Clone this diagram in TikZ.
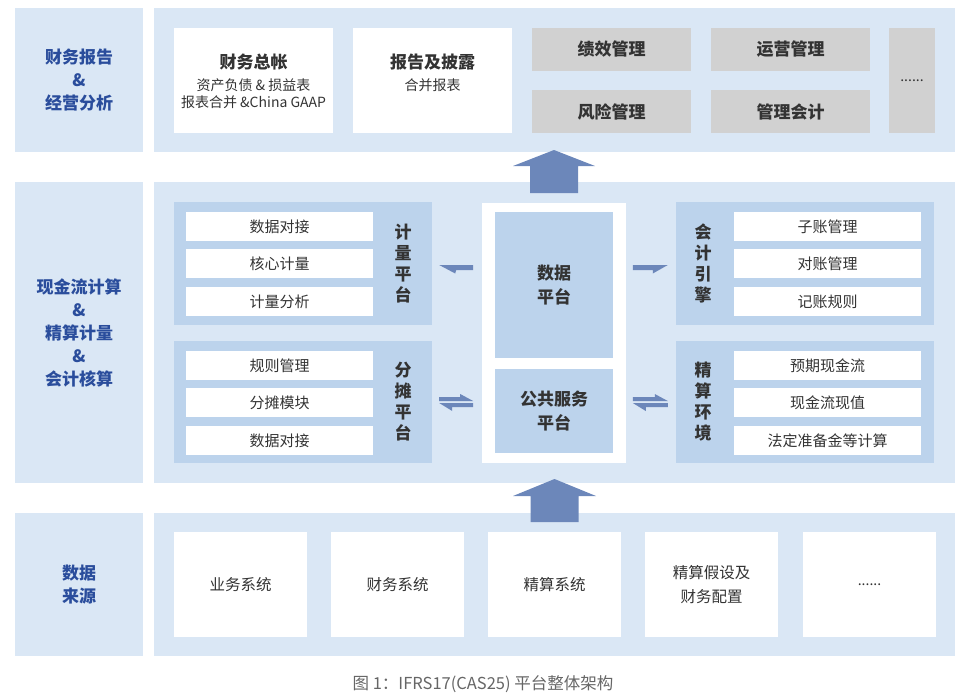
\documentclass[tikz,border=0pt]{standalone}
\usepackage{fontspec}
\setmainfont{Noto Sans CJK SC}
\usetikzlibrary{positioning,calc}

\definecolor{bandblue}{HTML}{DAE7F5}
\definecolor{groupblue}{HTML}{BCD3EC}
\definecolor{tagbox}{HTML}{D1D1D1}
\definecolor{arrowblue}{HTML}{6C87BA}
\definecolor{labelblue}{HTML}{2A4D9C}
\definecolor{darktext}{HTML}{333333}
\definecolor{captext}{HTML}{666666}

\begin{document}
\begin{tikzpicture}[x=1pt,y=-1pt,
	band/.style={fill=bandblue,inner sep=0pt},
	side/.style={band,minimum width=128pt,text=labelblue,align=center,font=\fontsize{17}{23}\selectfont\bfseries},
	panel/.style={band,minimum width=801pt},
	card/.style={fill=white,inner sep=0pt,minimum width=159pt,minimum height=105pt},
	tag/.style={fill=tagbox,inner sep=0pt,minimum width=159pt,minimum height=43pt,text=darktext,font=\fontsize{17}{20}\selectfont\bfseries},
	group/.style={fill=groupblue,inner sep=0pt,minimum width=258pt},
	item/.style={fill=white,inner sep=0pt,minimum width=187pt,minimum height=29pt,text=darktext,font=\fontsize{15}{18}\selectfont},
	vlabel/.style={text=darktext,align=center,font=\fontsize{17}{21}\selectfont\bfseries},
	source/.style={fill=white,inner sep=0pt,minimum width=133pt,minimum height=105pt,text=darktext,align=center,font=\fontsize{15.5}{24}\selectfont},
	flow/.style={fill=arrowblue}]
\useasboundingbox (0,0) rectangle (971,697);

% top row
\node[side,minimum height=144pt] (lblTop) at (79,80) {财务报告\\\&\\经营分析};
\node[panel,minimum height=144pt] (panTop) at (554.5,80) {};
\node[card] (ledger) at (253.5,80.5) {};
\node[card] (report) at (432.5,80.5) {};
\node[text=darktext,font=\fontsize{17}{20}\selectfont\bfseries] (ledgerT) at (253.5,62) {财务总帐};
\node[text=darktext,align=center,font=\fontsize{14}{17}\selectfont] (ledgerS) at (253.5,93.5) {资产负债 \& 损益表\\报表合并 \&China GAAP};
\node[text=darktext,font=\fontsize{17}{20}\selectfont\bfseries] (reportT) at (432.5,62) {报告及披露};
\node[text=darktext,font=\fontsize{14}{17}\selectfont] (reportS) at (432.5,85) {合并报表};
\node[tag] (perf) at (611.5,49.5) {绩效管理};
\node[tag] (risk) at (611.5,111.5) {风险管理};
\node[tag] (ops) at (790.5,49.5) {运营管理};
\node[tag] (mgmt) at (790.5,111.5) {管理会计};
\node[tag,minimum width=46pt,minimum height=105pt,font=\fontsize{14}{16}\selectfont] (moreTop) at (912,80.5) {......};

% middle row
\node[side,minimum height=301pt] (lblMid) at (79,332.5) {现金流计算\\\&\\精算计量\\\&\\会计核算};
\node[panel,minimum height=301pt] (panMid) at (554.5,332.5) {};

\node[group,minimum height=123pt] (measure) at (303,263.5) {};
\node[item] (m1) at (279.5,226.5) {数据对接};
\node[item] (m2) at (279.5,263.5) {核心计量};
\node[item] (m3) at (279.5,301.5) {计量分析};
\node[vlabel] (measureL) at (403,263.5) {计\\量\\平\\台};

\node[group,minimum height=122pt] (alloc) at (303,402) {};
\node[item] (a1) at (279.5,365.5) {规则管理};
\node[item] (a2) at (279.5,402.5) {分摊模块};
\node[item] (a3) at (279.5,440.5) {数据对接};
\node[vlabel] (allocL) at (403,402) {分\\摊\\平\\台};

\node[fill=white,inner sep=0pt,minimum width=144pt,minimum height=260pt] (core) at (554,333) {};
\node[group,minimum width=118pt,minimum height=146pt,text=darktext,align=center,font=\fontsize{17}{24}\selectfont\bfseries] (dp) at (554,285) {数据\\平台};
\node[group,minimum width=118pt,minimum height=84pt,text=darktext,align=center,font=\fontsize{17}{24}\selectfont\bfseries] (ps) at (554,411) {公共服务\\平台};

\node[group,minimum height=123pt] (acct) at (805,263.5) {};
\node[item] (c1) at (827.5,226.5) {子账管理};
\node[item] (c2) at (827.5,263.5) {对账管理};
\node[item] (c3) at (827.5,301.5) {记账规则};
\node[vlabel] (acctL) at (703,263.5) {会\\计\\引\\擎};

\node[group,minimum height=122pt] (actu) at (805,402) {};
\node[item] (e1) at (827.5,365.5) {预期现金流};
\node[item] (e2) at (827.5,402.5) {现金流现值};
\node[item] (e3) at (827.5,440.5) {法定准备金等计算};
\node[vlabel] (actuL) at (703,402) {精\\算\\环\\境};

% bottom row
\node[side,minimum height=143pt] (lblBot) at (79,584.5) {数据\\来源};
\node[panel,minimum height=143pt] (panBot) at (554.5,584.5) {};
\node[source] (s1) at (240.5,584.5) {业务系统};
\node[source] (s2) at (397.5,584.5) {财务系统};
\node[source] (s3) at (554.5,584.5) {精算系统};
\node[source] (s4) at (711.5,584.5) {精算假设及\\财务配置};
\node[source,font=\fontsize{14}{16}\selectfont] (s5) at (869.5,584.5) {......};

% arrows
\coordinate (upTop) at (554,150);
\coordinate (upBot) at (554.5,479);
\fill[flow] (upTop) -- ++(41,16) -- ++(-17,0) -- ++(0,27) -- ++(-48,0) -- ++(0,-27) -- ++(-17,0) -- cycle;
\fill[flow] (upBot) -- ++(41.5,17) -- ++(-17.5,0) -- ++(0,26) -- ++(-48,0) -- ++(0,-26) -- ++(-17.5,0) -- cycle;

\coordinate (toMeasure) at ($(measure.east)+(7,1.5)$);
\coordinate (toAcct) at ($(acct.west)+(-8,1.5)$);
\fill[flow] (toMeasure) -- ++(34,0) -- ++(0,5) -- ++(-17,0) -- ++(-1,3.5) -- cycle;
\fill[flow] (toAcct) -- ++(-35,0) -- ++(0,5) -- ++(20,0) -- ++(0,3.5) -- cycle;

\coordinate (fromAlloc) at ($(alloc.east)+(7,-5)$);
\coordinate (toAlloc) at ($(alloc.east)+(7,1)$);
\fill[flow] (fromAlloc) -- ++(21,0) -- ++(0,-3) -- ++(13,7) -- ++(-34,0) -- cycle;
\fill[flow] (toAlloc) -- ++(34,0) -- ++(0,4) -- ++(-21,0) -- ++(0,4) -- cycle;

\coordinate (fromCore) at ($(actu.west)+(-43,-5)$);
\coordinate (toActu) at ($(actu.west)+(-43,1)$);
\fill[flow] (fromCore) -- ++(22,0) -- ++(0,-3) -- ++(13,7) -- ++(-35,0) -- cycle;
\fill[flow] (toActu) -- ++(35,0) -- ++(0,4) -- ++(-22,0) -- ++(0,4) -- cycle;

% caption
\node[text=captext,font=\fontsize{16.5}{19}\selectfont] (cap) at (483,684) {图 1：IFRS17(CAS25) 平台整体架构};
\end{tikzpicture}
\end{document}
